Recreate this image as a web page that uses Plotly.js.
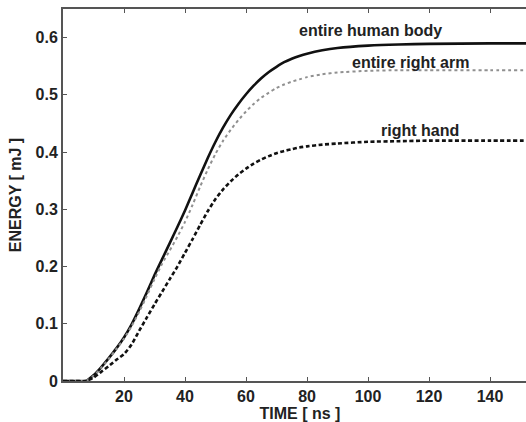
<!DOCTYPE html>
<html>
<head>
<meta charset="utf-8">
<script src="https://cdn.plot.ly/plotly-3.0.1.min.js"></script>
<style>
html, body { margin: 0; padding: 0; overflow: hidden; background: #fff; }
#chart { width: 540px; height: 422px; }
</style>
</head>
<body>
<div id="chart"></div>
<script>
// Time axis (ns)
const timeNs = [0, 5, 7.5, 10, 12.5, 15, 17.5, 20, 22.5, 25, 27.5, 30, 32.5, 35, 37.5, 40, 42.5, 45, 47.5, 50, 52.5, 55, 57.5, 60, 62.5, 65, 67.5, 70, 72.5, 75, 77.5, 80, 85, 90, 100, 110, 120, 140, 155];

// Energy (mJ)
const entireHumanBody = [0, 0, 0, 0.010, 0.024, 0.040, 0.057, 0.076, 0.099, 0.126, 0.155, 0.185, 0.213, 0.241, 0.269, 0.298, 0.329, 0.360, 0.390, 0.418, 0.443, 0.465, 0.484, 0.501, 0.516, 0.529, 0.540, 0.549, 0.557, 0.563, 0.568, 0.572, 0.578, 0.582, 0.586, 0.588, 0.589, 0.590, 0.590];
const entireRightArm = [0, 0, 0, 0.009, 0.023, 0.039, 0.056, 0.074, 0.096, 0.121, 0.149, 0.178, 0.205, 0.228, 0.252, 0.278, 0.308, 0.340, 0.370, 0.397, 0.420, 0.439, 0.456, 0.471, 0.484, 0.495, 0.504, 0.512, 0.518, 0.523, 0.527, 0.531, 0.536, 0.539, 0.542, 0.543, 0.543, 0.543, 0.543];
const rightHand = [0, 0, 0, 0.006, 0.016, 0.026, 0.037, 0.047, 0.064, 0.088, 0.111, 0.134, 0.156, 0.178, 0.200, 0.224, 0.248, 0.273, 0.297, 0.318, 0.335, 0.349, 0.361, 0.371, 0.380, 0.387, 0.393, 0.398, 0.402, 0.405, 0.408, 0.410, 0.413, 0.415, 0.418, 0.419, 0.420, 0.420, 0.420];

const seriesNames = ["entire human body", "entire right arm", "right hand"];
const labelX = [100.7, 113.8, 117];
const labelY = [0.613, 0.557, 0.438];

const xTicks = [20, 40, 60, 80, 100, 120, 140, 160];
const yTicks = [0, 0.1, 0.2, 0.3, 0.4, 0.5, 0.6];
const yTickText = ["0", "0.1", "0.2", "0.3", "0.4", "0.5", "0.6"];

const font = { family: "Liberation Sans, Arial, sans-serif", size: 16, color: "#222", weight: "bold" };

const traces = [
  { x: timeNs, y: entireHumanBody, name: seriesNames[0], mode: "lines",
    line: { color: "#111", width: 2.6, shape: "spline", smoothing: 0.6 } },
  { x: timeNs, y: entireRightArm, name: seriesNames[1], mode: "lines",
    line: { color: "#909090", width: 2, dash: "dot", shape: "spline", smoothing: 0.6 } },
  { x: timeNs, y: rightHand, name: seriesNames[2], mode: "lines",
    line: { color: "#111", width: 2.6, dash: "4px,2.5px", shape: "spline", smoothing: 0.6 } }
];

const annotations = seriesNames.map((n, i) => ({
  x: labelX[i], y: labelY[i], xref: "x", yref: "y", text: n, showarrow: false,
  font: font, xanchor: "center", yanchor: "middle"
}));

const layout = {
  width: 540, height: 422,
  margin: { l: 63, r: 3, t: 9, b: 41 },
  paper_bgcolor: "#fff", plot_bgcolor: "#fff",
  showlegend: false,
  font: font,
  xaxis: {
    range: [0, 155.4], tickvals: xTicks, ticks: "inside", ticklen: 4, tickwidth: 1, tickcolor: "#555",
    showline: true, linecolor: "#555", linewidth: 2, mirror: "ticks", showgrid: false, zeroline: false,
    tickfont: font, title: { text: "TIME [ ns ]", font: font, standoff: 2 }
  },
  yaxis: {
    range: [0, 0.65], tickvals: yTicks, ticktext: yTickText, ticks: "inside", ticklen: 4, tickwidth: 1, tickcolor: "#555",
    showline: true, linecolor: "#555", linewidth: 2, mirror: false, showgrid: false, zeroline: false,
    tickfont: font, title: { text: "ENERGY [ mJ ]", font: font, standoff: 10 }
  },
  annotations: annotations
};

Plotly.newPlot("chart", traces, layout, { displayModeBar: false, staticPlot: true });
</script>
</body>
</html>
